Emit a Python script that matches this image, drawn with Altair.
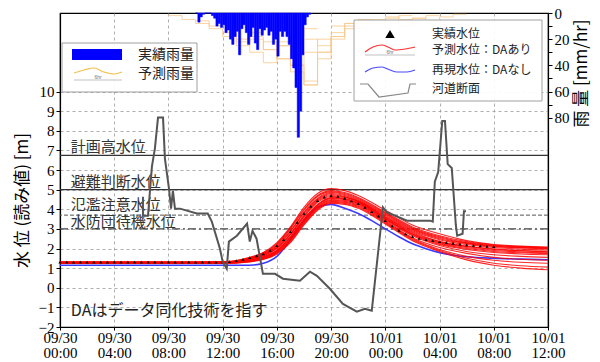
import altair as alt
import pandas as pd

# ---------------- data ----------------
x_ticks = [0, 4, 8, 12, 16, 20, 24, 28, 32, 36]   # hours from 09/30 00:00
y_ticks = [-2, -1, 0, 1, 2, 3, 4, 5, 6, 7, 8, 9, 10]
rain_ticks = [0, 10, 20, 30, 40, 50, 60, 70, 80]

# reference water levels
ref_solid = [6.75, 5.0]
ref_dash = [3.7]
ref_dashdot = [3.0]
ref_labels = ["計画高水位", "避難判断水位", "氾濫注意水位", "水防団待機水位"]
ref_label_levels = [6.75, 5.0, 3.7, 3.0]
ref_label_shift = [0, 0, -2, 1]

# observed water level (30 min)
obs_h = [i * 0.5 for i in range(65)]
obs_m = [1.30, 1.30, 1.30, 1.30, 1.30, 1.30, 1.30, 1.30, 1.30, 1.30, 1.30, 1.30,
         1.30, 1.30, 1.30, 1.30, 1.30, 1.30, 1.30, 1.30, 1.30, 1.30, 1.30, 1.30,
         1.31, 1.33, 1.38, 1.45, 1.53, 1.62, 1.73, 1.90, 2.14, 2.45, 2.86, 3.33,
         3.78, 4.15, 4.44, 4.62, 4.70, 4.66, 4.56, 4.43, 4.29, 4.10, 3.88, 3.65,
         3.42, 3.15, 2.92, 2.74, 2.60, 2.52, 2.45, 2.40, 2.35, 2.30, 2.26, 2.22,
         2.19, 2.16, 2.13, 2.11, 2.09]

# reproduced level without DA (blue)
blue_h = [0, 14, 15, 16, 17, 18, 19, 20, 21, 22, 23, 24, 25, 26, 27, 28, 29, 30, 32, 34, 36]
blue_m = [1.15, 1.15, 1.25, 1.60, 2.45, 3.40, 4.10, 4.25, 4.05, 3.78, 3.42, 3.00, 2.60,
          2.24, 1.99, 1.79, 1.66, 1.58, 1.50, 1.46, 1.43]

# forecast ensemble with DA (red)
ens_h = [0, 10, 12, 14, 15, 16, 17, 18, 19, 20, 21, 22, 24, 26, 28, 30, 32, 34, 36]
ens_1 = [1.32, 1.32, 1.33, 1.55, 1.80, 2.30, 3.10, 4.10, 4.80, 5.05, 4.95, 4.70, 3.95, 3.20, 2.75, 2.40, 2.20, 2.12, 2.08]
ens_2 = [1.30, 1.30, 1.31, 1.52, 1.75, 2.20, 3.00, 3.95, 4.65, 4.90, 4.80, 4.55, 3.80, 3.05, 2.60, 2.30, 2.15, 2.08, 2.03]
ens_3 = [1.30, 1.30, 1.30, 1.50, 1.70, 2.10, 2.85, 3.80, 4.50, 4.80, 4.70, 4.45, 3.70, 2.95, 2.50, 2.25, 2.10, 2.03, 1.98]
ens_4 = [1.28, 1.28, 1.29, 1.45, 1.62, 2.00, 2.70, 3.60, 4.35, 4.65, 4.60, 4.40, 3.65, 2.90, 2.45, 2.20, 2.05, 1.97, 1.92]
ens_5 = [1.28, 1.28, 1.28, 1.42, 1.58, 1.92, 2.60, 3.50, 4.25, 4.60, 4.55, 4.35, 3.60, 2.85, 2.35, 2.10, 1.95, 1.88, 1.83]
ens_6 = [1.30, 1.30, 1.30, 1.48, 1.68, 2.05, 2.75, 3.70, 4.45, 4.75, 4.65, 4.40, 3.55, 2.75, 2.30, 2.05, 1.90, 1.82, 1.78]
ens_7 = [1.27, 1.27, 1.27, 1.40, 1.55, 1.88, 2.55, 3.45, 4.20, 4.55, 4.50, 4.30, 3.50, 2.70, 2.20, 1.95, 1.80, 1.72, 1.68]
ens_8 = [1.26, 1.26, 1.26, 1.38, 1.52, 1.85, 2.50, 3.40, 4.15, 4.50, 4.45, 4.25, 3.45, 2.65, 2.15, 1.85, 1.68, 1.60, 1.55]
ens_9 = [1.25, 1.25, 1.25, 1.36, 1.50, 1.82, 2.45, 3.35, 4.10, 4.45, 4.40, 4.20, 3.40, 2.55, 2.05, 1.75, 1.55, 1.45, 1.40]
ens_10 = [1.25, 1.25, 1.25, 1.35, 1.48, 1.78, 2.40, 3.30, 4.05, 4.40, 4.35, 4.15, 3.35, 2.50, 1.95, 1.60, 1.40, 1.30, 1.25]
ens_11 = [1.24, 1.24, 1.24, 1.33, 1.46, 1.75, 2.35, 3.25, 4.00, 4.35, 4.30, 4.10, 3.30, 2.45, 1.90, 1.50, 1.25, 1.12, 1.05]
ens_12 = [1.24, 1.24, 1.24, 1.32, 1.44, 1.72, 2.30, 3.20, 3.95, 4.30, 4.25, 4.05, 3.25, 2.40, 1.85, 1.42, 1.15, 1.00, 0.92]
ens_13 = [1.30, 1.30, 1.30, 1.50, 1.72, 2.15, 2.90, 3.85, 4.55, 4.85, 4.75, 4.50, 3.75, 3.00, 2.55, 2.28, 2.12, 2.05, 2.00]
ens_14 = [1.29, 1.29, 1.29, 1.46, 1.65, 2.02, 2.72, 3.65, 4.40, 4.70, 4.62, 4.42, 3.60, 2.80, 2.35, 2.12, 1.98, 1.90, 1.86]
ens_15 = [1.30, 1.30, 1.31, 1.53, 1.78, 2.25, 3.05, 4.00, 4.70, 4.95, 4.85, 4.60, 3.85, 3.10, 2.65, 2.35, 2.18, 2.10, 2.05]
ens_16 = [1.27, 1.27, 1.27, 1.40, 1.56, 1.90, 2.58, 3.48, 4.22, 4.58, 4.52, 4.32, 3.52, 2.72, 2.25, 2.00, 1.85, 1.78, 1.74]
ensemble = [ens_1, ens_2, ens_3, ens_4, ens_5, ens_6, ens_7, ens_8,
            ens_9, ens_10, ens_11, ens_12, ens_13, ens_14, ens_15, ens_16]

# river channel cross-section (gray)
gray_h = [6.12, 6.12, 6.49, 6.78, 7.0, 7.23, 7.6, 7.74, 8.04, 8.19, 8.33, 8.48, 8.85, 10.1,
          10.9, 11.2, 11.8, 12.0, 12.3, 12.46, 13.05, 13.8, 14.0, 14.2, 14.5, 14.97, 15.86,
          16.45, 17.7, 18.44, 18.95, 19.91, 20.87, 21.9, 22.49, 23.0, 23.23, 23.6, 23.82,
          24.1, 25.6, 27.3, 27.5, 27.65, 27.9, 28.2, 28.4, 28.6, 28.9, 29.2, 29.3, 29.7,
          29.8, 29.95]
gray_m = [4.64, 3.67, 3.67, 6.17, 7.09, 8.67, 8.67, 6.58, 5.05, 4.03, 4.95, 4.03, 4.03, 3.78,
          3.78, 3.37, 1.99, 1.33, 0.97, 2.35, 2.65, 3.27, 2.35, 2.90, 2.50, 0.71, 0.71,
          0.46, 0.36, 0.82, 0.61, -0.05, -0.82, -1.22, -1.07, -1.17, 0.30, 2.65, 4.10,
          3.85, 3.42, 3.42, 3.37, 5.40, 5.90, 8.50, 8.50, 6.30, 6.10, 3.20, 2.65, 2.75,
          3.90, 3.90]

# observed rainfall (10 min bars)
rain_h = [10.0 + i / 6 for i in range(51)]
rain_mm = [0, 7, 3, 1, 0, 0, 0, 2, 4, 10, 8, 11, 9, 15, 13, 20, 24, 18, 14, 32, 12, 9, 15,
           24, 18, 11, 23, 28, 12, 17, 13, 11, 17, 14, 24, 20, 33, 14, 18, 14, 18, 24, 35,
           42, 57, 95, 75, 32, 9, 3, 1]

# forecast rainfall (hourly steps, 6 hr each)
fc_start = [8, 10, 12, 13, 14, 15, 16, 17, 18, 20, 22, 24]
fc_vals = [[2, 5, 8, 10, 6, 4],
           [6, 12, 18, 22, 15, 10],
           [15, 25, 20, 28, 22, 14],
           [20, 30, 38, 25, 18, 12],
           [18, 28, 35, 40, 30, 20],
           [22, 35, 45, 55, 30, 15],
           [25, 40, 52, 30, 18, 8],
           [40, 55, 35, 20, 10, 5],
           [20, 25, 18, 12, 8, 5],
           [10, 8, 12, 6, 4, 2],
           [5, 8, 6, 10, 4, 2],
           [3, 5, 4, 6, 3, 1]]

# ---------------- tables ----------------
obs_df = pd.DataFrame({"h": obs_h, "m": obs_m})
blue_df = pd.DataFrame({"h": blue_h, "m": blue_m})
ens_df = pd.DataFrame([{"mid": k, "h": h, "m": v}
                       for k, mem in enumerate(ensemble) for h, v in zip(ens_h, mem)])
gray_df = pd.DataFrame({"i": range(len(gray_h)), "h": gray_h, "m": gray_m})
rain_df = pd.DataFrame({"t0": rain_h, "t1": [t + 1 / 6 for t in rain_h], "mm": rain_mm,
                        "zero": [0] * len(rain_h)})
fc_rows = []
for k, (s, vals) in enumerate(zip(fc_start, fc_vals)):
    for j, v in enumerate(vals + [vals[-1]]):
        fc_rows.append({"fid": k, "h": s + j, "mm": v})
fc_df = pd.DataFrame(fc_rows)

# ---------------- scales / axes ----------------
JP = "Noto Sans CJK JP"
SERIF = "Liberation Serif"
xs = alt.Scale(domain=[0, 36], nice=False, zero=False)
xax = alt.Axis(values=x_ticks, title=None, grid=True, gridDash=[3, 3], gridColor="#9a9a9a",
               gridWidth=0.8, tickSize=3, tickColor="black", domainColor="black",
               labelFont=SERIF, labelFontSize=15, labelColor="black", labelLineHeight=15,
               labelPadding=0, labelFlush=False,
               labelExpr="[datum.value < 24 ? '09/30' : '10/01', "
                         "(datum.value % 24 < 10 ? '0' : '') + (datum.value % 24) + ':00']")
ys = alt.Scale(domain=[-2, 14], nice=False, zero=False)
yax = alt.Axis(values=y_ticks, title="水 位 (読み値) [m]", grid=True, gridDash=[3, 3],
               gridColor="#9a9a9a", gridWidth=0.8, tickSize=4, tickColor="black",
               domainColor="black", labelFont=SERIF, labelFontSize=15, labelColor="black",
               titleFont=JP, titleFontSize=17, titleFontWeight="normal", titleColor="black",
               titleX=-38, titleY=187, titleAlign="center", titleBaseline="middle", titleAngle=270)
rs = alt.Scale(domain=[0, 240], reverse=True, nice=False)
rax = alt.Axis(orient="right", values=rain_ticks, title="雨 量 [mm/hr]", grid=False,
               tickSize=4, tickColor="black", domainColor="black", labelFont=SERIF,
               labelFontSize=15, labelColor="black", titleFont=JP, titleFontSize=17,
               titleFontWeight="normal", titleColor="black", titleAngle=270,
               titleX=33, titleY=60, titleAlign="center", titleBaseline="middle")

X = lambda f: alt.X(f, type="quantitative", scale=xs, axis=xax)
Y = lambda f: alt.Y(f, type="quantitative", scale=ys, axis=yax)

ref1 = alt.Chart(pd.DataFrame({"m": ref_solid})).mark_rule(color="#333333", strokeWidth=1.2).encode(y=Y("m"))
ref2 = alt.Chart(pd.DataFrame({"m": ref_dash})).mark_rule(color="#555555", strokeWidth=1, strokeDash=[4, 2]).encode(y=Y("m"))
ref3 = alt.Chart(pd.DataFrame({"m": ref_dashdot})).mark_rule(color="#444444", strokeWidth=1.2, strokeDash=[8, 3, 2, 3]).encode(y=Y("m"))
ref_txt = alt.layer(*[
    alt.Chart(pd.DataFrame({"h": [0.8], "m": [lv], "t": [lab]})).mark_text(
        font=JP, fontSize=15, color="#333333", align="left", baseline="bottom", dy=sh).encode(
        x=X("h"), y=Y("m"), text="t:N")
    for lab, lv, sh in zip(ref_labels, ref_label_levels, ref_label_shift)])
note = alt.Chart(pd.DataFrame({"h": [0.8], "m": [-1.2], "t": ["DAはデータ同化技術を指す"]})).mark_text(
    font=JP, fontSize=16, color="#222222", align="left", baseline="middle").encode(x=X("h"), y=Y("m"), text="t:N")

blue = alt.Chart(blue_df).mark_line(color="#3b3bff", strokeWidth=1.6, interpolate="monotone").encode(x=X("h"), y=Y("m"))
red = alt.Chart(ens_df).mark_line(color="#ff0000", strokeWidth=1.1, opacity=0.85, interpolate="monotone").encode(
    x=X("h"), y=Y("m"), detail="mid:N")
obs = alt.Chart(obs_df).mark_point(shape="triangle-up", filled=True, color="black", size=10, opacity=1).encode(
    x=X("h"), y=Y("m"))
gray = alt.Chart(gray_df).mark_line(color="#555555", strokeWidth=2).encode(x=X("h"), y=Y("m"), order="i:Q")

water = alt.layer(ref1, ref2, ref3, ref_txt, note, blue, red, obs, gray)

fc = alt.Chart(fc_df).mark_line(color="#f7c98b", strokeWidth=1, opacity=0.8, interpolate="step-after").encode(
    x=X("h"), y=alt.Y("mm:Q", scale=rs, axis=rax), detail="fid:N")
bars = alt.Chart(rain_df).mark_bar(color="#0000ff", stroke="#0000ff", strokeWidth=0.5, opacity=1).encode(
    x=X("t0"), x2="t1", y=alt.Y("mm:Q", scale=rs, axis=rax), y2="zero")
rain = alt.layer(fc, bars)

# ---------------- legends (pixel positions in plot area) ----------------
PX = lambda f: alt.X(f, type="quantitative", scale=None, axis=None)
PY = lambda f: alt.Y(f, type="quantitative", scale=None, axis=None)
dummy = pd.DataFrame({"a": [0]})

def box(x1, x2, y1, y2):
    return alt.Chart(dummy).mark_rect(fill="white", fillOpacity=0.92, stroke="#a0a0a0", strokeWidth=1).encode(
        x=alt.value(x1), x2=alt.value(x2), y=alt.value(y1), y2=alt.value(y2))

def txt(x, y, s, size):
    return alt.Chart(dummy).mark_text(text=s, font=JP, fontSize=size, color="#222222", align="left",
                                      baseline="middle").encode(x=alt.value(x), y=alt.value(y))

def curve(xs_, ys_, color, w=1.2):
    d = pd.DataFrame({"i": range(len(xs_)), "px": xs_, "py": ys_})
    return alt.Chart(d).mark_line(color=color, strokeWidth=w, interpolate="monotone").encode(
        x=PX("px"), y=PY("py"), order="i:Q")

def arrow(x1, x2, y):
    r = alt.Chart(dummy).mark_rule(color="#999999", strokeWidth=0.6).encode(
        x=alt.value(x1), x2=alt.value(x2), y=alt.value(y))
    t = alt.Chart(dummy).mark_text(text="6hr", fontSize=5, color="#777777", baseline="bottom").encode(
        x=alt.value((x1 + x2) / 2), y=alt.value(y - 0.5))
    return r + t

leg_left = alt.layer(
    box(2, 137, 30, 79),
    alt.Chart(dummy).mark_rect(color="#0000ff").encode(x=alt.value(12), x2=alt.value(62), y=alt.value(36), y2=alt.value(47)),
    txt(78, 42, "実績雨量", 14),
    curve([14, 24, 34, 44, 54, 62], [60, 57, 55, 59, 61, 59], "#f2c14e"),
    arrow(14, 62, 67),
    txt(78, 61, "予測雨量", 14),
)
leg_right = alt.layer(
    box(294, 482, 7, 88),
    alt.Chart(dummy).mark_point(shape="triangle-up", filled=True, color="black", size=90, opacity=1).encode(
        x=alt.value(330), y=alt.value(21)),
    txt(372, 21, "実績水位", 12),
    curve([305, 313, 322, 328, 335, 345, 355], [39, 34, 32, 34, 37, 36, 34], "#ff3030"),
    arrow(305, 355, 42),
    txt(372, 37, "予測水位：DAあり", 12),
    curve([305, 313, 322, 330, 337, 347, 355], [59, 55, 54, 57, 59, 59, 57], "#4a4aff"),
    txt(372, 57, "再現水位：DAなし", 12),
    alt.Chart(pd.DataFrame({"i": range(6), "px": [300, 308, 319, 348, 350, 356],
                            "py": [71, 71, 84, 80, 71, 71]})).mark_line(color="#888888", strokeWidth=1.2).encode(
        x=PX("px"), y=PY("py"), order="i:Q"),
    txt(372, 76, "河道断面", 12),
)

chart = alt.layer(water, rain, leg_left, leg_right).resolve_scale(y="independent").properties(
    width=488, height=314,
    autosize=alt.AutoSizeParams(type="none"),
    padding={"left": 52, "top": 5, "right": 44, "bottom": 35},
).configure_view(stroke="black", strokeWidth=1.2).configure_axis(domainWidth=1.2)

chart.save("out.html", embed_options={"renderer": "svg", "actions": False})
